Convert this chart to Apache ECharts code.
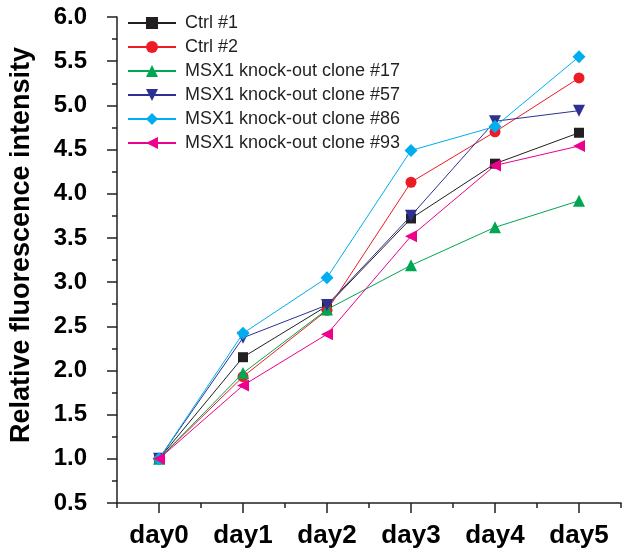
<!DOCTYPE html>
<html>
<head>
<meta charset="utf-8">
<script src="https://cdn.jsdelivr.net/npm/echarts@6/dist/echarts.min.js"></script>
<style>
html,body{margin:0;padding:0;background:#fff;}
#main{width:642px;height:556px;}
</style>
</head>
<body>
<div id="main"></div>
<script>
var categories = ['day0', 'day1', 'day2', 'day3', 'day4', 'day5'];
var seriesNames = ['Ctrl #1', 'Ctrl #2', 'MSX1 knock-out clone #17', 'MSX1 knock-out clone #57', 'MSX1 knock-out clone #86', 'MSX1 knock-out clone #93'];
var ctrl1 = [1.0, 2.15, 2.73, 3.72, 4.34, 4.69];
var ctrl2 = [1.0, 1.93, 2.68, 4.13, 4.70, 5.31];
var clone17 = [1.0, 1.97, 2.69, 3.19, 3.62, 3.92];
var clone57 = [1.0, 2.37, 2.74, 3.75, 4.82, 4.94];
var clone86 = [1.0, 2.42, 3.05, 4.49, 4.76, 5.55];
var clone93 = [1.0, 1.83, 2.41, 3.52, 4.32, 4.54];
var yTicks = { min: 0.5, max: 6.0, interval: 0.5 };
var yTitle = 'Relative fluorescence intensity';

var FONT = "'Liberation Sans', Arial, sans-serif";
var colors = ['#231f20', '#ed1c24', '#00a651', '#2e3192', '#00aeef', '#ec008c'];
var symbols = ['rect', 'circle', 'triangle', 'triangle', 'diamond', 'triangle'];
var rotates = [0, 0, 0, 180, 0, 90];
var sizes = [10, 11, 12, 12, 13, 12];
var values = [ctrl1, ctrl2, clone17, clone57, clone86, clone93];

var series = seriesNames.map(function (name, i) {
  return {
    name: name,
    type: 'line',
    xAxisIndex: 0,
    data: values[i],
    symbol: symbols[i],
    symbolRotate: rotates[i],
    symbolSize: sizes[i],
    showAllSymbol: true,
    color: colors[i],
    lineStyle: { width: 1, color: colors[i] },
    itemStyle: { color: colors[i], borderWidth: 0 },
    emphasis: { disabled: true },
    animation: false,
    z: 2 + i
  };
});

var axisLineStyle = { color: '#231f20', width: 1.5 };

var chart = echarts.init(document.getElementById('main'), null, { renderer: 'canvas' });
chart.setOption({
  backgroundColor: '#ffffff',
  animation: false,
  grid: { left: 117, right: 21, top: 17, bottom: 53, containLabel: false },
  legend: {
    orient: 'vertical',
    left: 122,
    top: 6,
    itemWidth: 48,
    itemHeight: 15,
    itemGap: 0,
    textStyle: { fontFamily: FONT, fontSize: 18, color: '#231f20', lineHeight: 24, padding: [0, 0, 0, 4] },
    data: seriesNames,
    selectedMode: false
  },
  xAxis: [
    {
      type: 'category',
      data: categories,
      boundaryGap: true,
      axisLine: { show: true, lineStyle: axisLineStyle },
      axisTick: { show: true, alignWithLabel: true, length: 10, lineStyle: axisLineStyle },
      axisLabel: { fontFamily: FONT, fontSize: 26, fontWeight: 'bold', color: '#000', margin: 20 },
      splitLine: { show: false }
    },
    {
      type: 'category',
      data: categories,
      position: 'bottom',
      boundaryGap: true,
      axisLine: { show: false },
      axisTick: { show: true, alignWithLabel: false, length: 5, lineStyle: axisLineStyle },
      axisLabel: { show: false },
      splitLine: { show: false }
    }
  ],
  yAxis: {
    type: 'value',
    min: yTicks.min,
    max: yTicks.max,
    interval: yTicks.interval,
    axisLine: { show: true, lineStyle: axisLineStyle },
    axisTick: { show: true, length: 10, lineStyle: axisLineStyle },
    minorTick: { show: true, splitNumber: 2, length: 5, lineStyle: axisLineStyle },
    axisLabel: {
      fontFamily: FONT, fontSize: 24, fontWeight: 'bold', color: '#000', margin: 30,
      formatter: function (v) { return v.toFixed(1); }
    },
    splitLine: { show: false },
    minorSplitLine: { show: false }
  },
  graphic: [{
    type: 'text',
    x: 22,
    y: 245,
    rotation: Math.PI / 2,
    style: {
      text: yTitle,
      fontFamily: FONT,
      fontSize: 27,
      fontWeight: 'bold',
      fill: '#000',
      textAlign: 'center',
      textVerticalAlign: 'middle'
    }
  }],
  series: series
});
</script>
</body>
</html>
